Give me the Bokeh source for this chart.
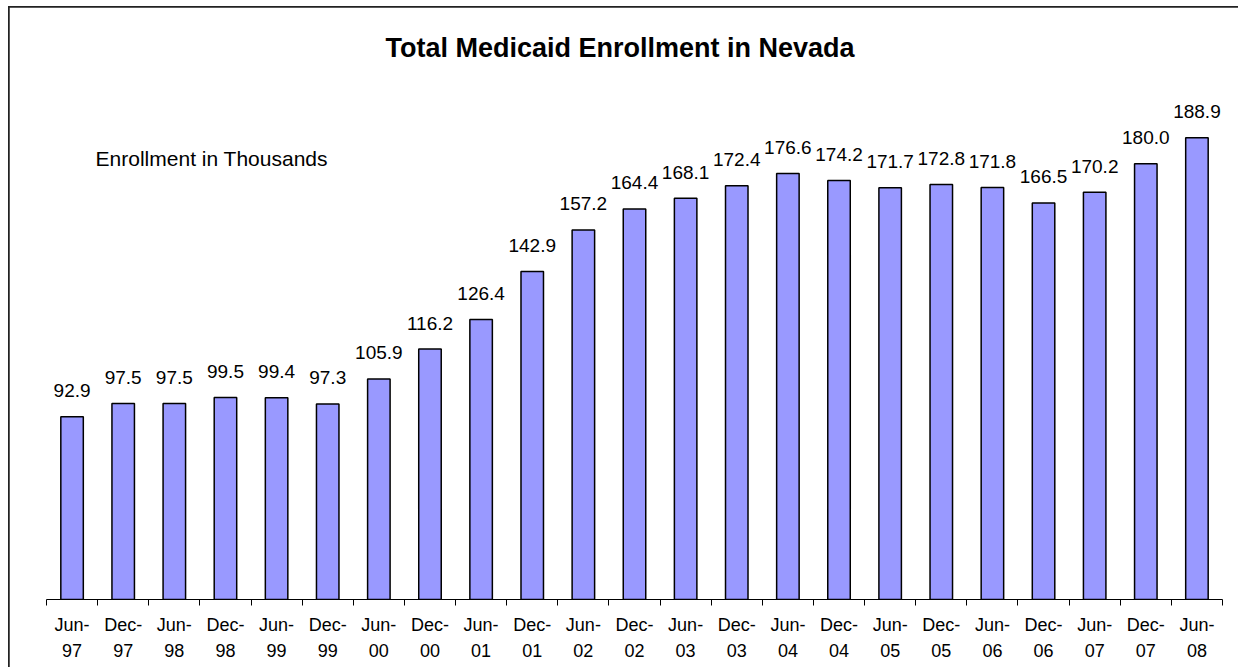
from bokeh.plotting import figure
from bokeh.models import (Range1d, LinearAxis, FixedTicker, ColumnDataSource, Label, Title)
from bokeh.embed import file_html
from bokeh.resources import INLINE
from bokeh.core.properties import value

categories = ["Jun-97", "Dec-97", "Jun-98", "Dec-98", "Jun-99", "Dec-99", "Jun-00", "Dec-00",
              "Jun-01", "Dec-01", "Jun-02", "Dec-02", "Jun-03", "Dec-03", "Jun-04", "Dec-04",
              "Jun-05", "Dec-05", "Jun-06", "Dec-06", "Jun-07", "Dec-07", "Jun-08"]
enrollment = [92.9, 97.5, 97.5, 99.5, 99.4, 97.3, 105.9, 116.2, 126.4, 142.9, 157.2, 164.4,
              168.1, 172.4, 176.6, 174.2, 171.7, 172.8, 171.8, 166.5, 170.2, 180.0, 188.9]
title_text = "Total Medicaid Enrollment in Nevada"
units_text = "Enrollment in Thousands"

FONT = "Liberation Sans"
n = len(categories)
centers = [i + 0.5 for i in range(n)]
edges = list(range(n + 1))
src = ColumnDataSource(dict(x=centers, top=enrollment,
                            label=[f"{v:.1f}" for v in enrollment]))

p = figure(width=1229, height=660,
           x_range=Range1d(0, n), y_range=Range1d(30, 210),
           output_backend="svg", toolbar_location=None,
           x_axis_location=None, y_axis_location=None,
           min_border_left=37, min_border_right=16, min_border_top=69, min_border_bottom=68)
p.grid.visible = False
p.outline_line_color = None
p.styles = {"margin-left": "9px", "margin-top": "7px",
            "outline": "2px solid #222", "outline-offset": "-1px"}

p.title = Title(text=title_text, align="left", text_font=FONT, text_font_size="27px",
                text_font_style="bold", text_color="black", standoff=28, offset=339)

xaxis = LinearAxis(ticker=FixedTicker(ticks=centers, minor_ticks=edges),
                   major_label_overrides={c: lab.replace("-", "-\n")
                                          for c, lab in zip(centers, categories)},
                   major_tick_in=0, major_tick_out=0, major_tick_line_color=None,
                   minor_tick_in=0, minor_tick_out=6, minor_tick_line_color="black",
                   axis_line_color="black", major_label_standoff=9,
                   major_label_text_font=FONT, major_label_text_font_size="18px",
                   major_label_text_line_height=1.3, major_label_text_color="black")
p.add_layout(xaxis, "below")

p.vbar(x="x", top="top", bottom=0, width=0.44, source=src,
       fill_color="#9999FF", line_color="black", line_width=1.5)
p.text(x="x", y="top", text="label", source=src, text_align="center",
       text_baseline="alphabetic", y_offset=-26, text_font=value(FONT),
       text_font_size="19px", text_color="black")

p.add_layout(Label(x=0.96, y=181.8, text=units_text,
                   text_baseline="middle", text_font=FONT, text_font_size="21px",
                   text_color="black"))

open("out.html", "w").write(file_html(p, INLINE))
